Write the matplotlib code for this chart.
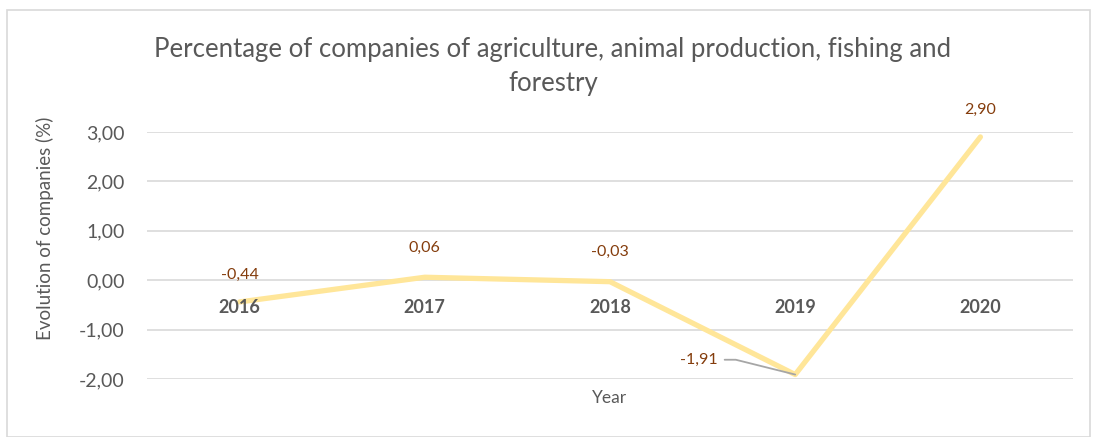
import numpy as np
import matplotlib.pyplot as plt
import matplotlib.patches as patches

years = ['2016', '2017', '2018', '2019', '2020']
values = [-0.44, 0.06, -0.03, -1.91, 2.90]
labels = ['-0,44', '0,06', '-0,03', '-1,91', '2,90']
yticks = [-2, -1, 0, 1, 2, 3]
ytick_labels = ['-2,00', '-1,00', '0,00', '1,00', '2,00', '3,00']

plt.rcParams['font.family'] = ['Lato', 'DejaVu Sans']

fig = plt.figure(figsize=(10.96, 4.37), dpi=100)
ax = fig.add_axes([147/1096, 1-379/437, 926/1096, (379-132)/437])

x = np.arange(len(years)) + 0.5
ax.plot(x, values, color='#FFE699', linewidth=3.8, solid_capstyle='round', zorder=3)

ax.set_xlim(0, 5)
ax.set_ylim(-2, 3)
ax.set_yticks(yticks)
ax.set_yticklabels(ytick_labels, fontsize=14, color='#595959')
ax.tick_params(axis='y', length=0, pad=16)
ax.set_xticks([])
ax.grid(axis='y', color='#D9D9D9', linewidth=1.2)
ax.set_axisbelow(True)
for s in ax.spines.values():
    s.set_visible(False)

# category labels sit next to the zero line
for xi, yr in zip(x, years):
    ax.text(xi, -0.55, yr, ha='center', va='center', fontsize=13,
            fontweight='bold', color='#595959')

# data labels
brown = '#843C0C'
offsets = [(0, 0.55), (0, 0.6), (0, 0.6), None, (0, 0.55)]
for xi, v, lab, off in zip(x, values, labels, offsets):
    if off is None:
        continue
    ax.text(xi + off[0], v + off[1], lab, ha='center', va='center',
            fontsize=11.5, color=brown)
# leader line label for 2019
ax.annotate(labels[3], xy=(x[3], values[3]), xytext=(x[3] - 0.52, values[3] + 0.3),
            ha='center', va='center', fontsize=11.5, color=brown,
            arrowprops=dict(arrowstyle='-', color='#A6A6A6', lw=1.3,
                            shrinkA=3, shrinkB=0, relpos=(1, 0.5),
                            connectionstyle='angle,angleA=0,angleB=-14,rad=0'))

ax.set_xlabel('Year', fontsize=12.5, color='#595959', labelpad=8)
fig.text(45/1096, 1-228/437, 'Evolution of companies (%)', rotation=90,
         ha='center', va='center', fontsize=13.5, color='#595959')
fig.text(553/1096, 1-66/437, 'Percentage of companies of agriculture, animal production, fishing and\nforestry',
         ha='center', va='center', fontsize=18.5, color='#595959', linespacing=1.45)

fig.patches.append(patches.Rectangle((7/1096, 0), 1083/1096, 1-10/437, transform=fig.transFigure,
                                     fill=False, edgecolor='#D9D9D9', linewidth=1.2))

fig.savefig('out.png', dpi=100)
